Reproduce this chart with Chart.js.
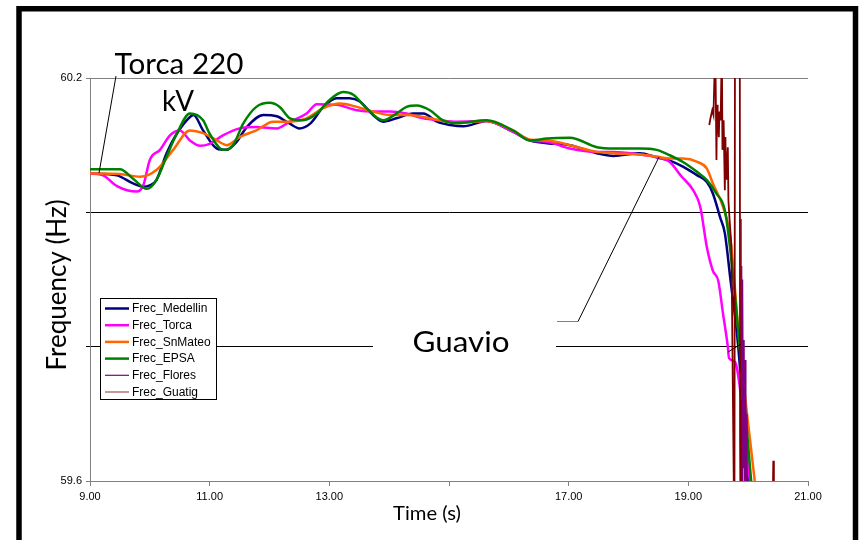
<!DOCTYPE html>
<html>
<head>
<meta charset="utf-8">
<script src="https://cdn.jsdelivr.net/npm/chart.js@4.4.1/dist/chart.umd.min.js"></script>
<style>
  html, body { margin: 0; padding: 0; background: #fff; }
  canvas { display: block; }
</style>
</head>
<body>
<canvas id="chart" width="860" height="540"></canvas>
<script>
// time (s) / frequency (Hz)
const tMedellin = [9.00, 9.45, 9.72, 9.89, 10.00, 10.11, 10.28, 10.45, 10.67, 10.73, 10.89, 11.12, 11.28, 11.45, 11.62, 11.90, 12.12, 12.34, 12.50, 12.68, 12.90, 13.12, 13.34, 13.51, 13.73, 13.90, 14.12, 14.40, 14.57, 14.80, 15.02, 15.24, 15.63, 16.07, 16.36, 16.64, 17.02, 17.47, 17.75, 18.19, 18.47, 18.69, 18.91, 19.15, 19.31, 19.41, 19.53, 19.61, 19.70, 19.83, 19.92, 20.00];
const fMedellin = [60.058, 60.055, 60.043, 60.038, 60.040, 60.048, 60.088, 60.117, 60.142, 60.145, 60.122, 60.095, 60.093, 60.105, 60.127, 60.145, 60.143, 60.132, 60.125, 60.132, 60.157, 60.170, 60.170, 60.165, 60.145, 60.135, 60.140, 60.147, 60.147, 60.135, 60.130, 60.128, 60.136, 60.120, 60.107, 60.103, 60.100, 60.088, 60.084, 60.088, 60.082, 60.077, 60.068, 60.055, 60.045, 60.028, 59.993, 59.969, 59.903, 59.804, 59.700, 59.600];

const tTorca = [9.00, 9.22, 9.45, 9.78, 9.89, 10.00, 10.17, 10.34, 10.50, 10.67, 10.84, 11.00, 11.23, 11.50, 11.78, 12.12, 12.34, 12.62, 12.79, 13.12, 13.46, 13.73, 14.01, 14.29, 14.57, 14.85, 15.13, 15.63, 16.07, 16.36, 16.64, 17.02, 17.47, 17.75, 18.19, 18.47, 18.69, 18.88, 19.08, 19.20, 19.31, 19.41, 19.50, 19.58, 19.66, 19.68, 19.78, 20.03];
const fTorca = [60.058, 60.055, 60.039, 60.031, 60.040, 60.078, 60.093, 60.115, 60.122, 60.107, 60.099, 60.102, 60.115, 60.125, 60.127, 60.125, 60.135, 60.147, 60.161, 60.160, 60.152, 60.150, 60.150, 60.147, 60.140, 60.137, 60.135, 60.136, 60.120, 60.107, 60.105, 60.095, 60.090, 60.090, 60.086, 60.082, 60.075, 60.054, 60.033, 60.008, 59.948, 59.913, 59.898, 59.849, 59.800, 59.783, 59.777, 59.600];

const tSnMateo = [9.00, 9.50, 9.84, 10.11, 10.39, 10.67, 10.89, 11.12, 11.29, 11.50, 11.78, 12.06, 12.34, 12.62, 12.90, 13.18, 13.46, 13.73, 14.01, 14.30, 14.57, 14.85, 15.13, 15.63, 16.07, 16.36, 16.64, 17.02, 17.47, 17.75, 18.19, 18.47, 18.69, 18.91, 19.15, 19.31, 19.41, 19.58, 19.70, 19.86, 20.11];
const fSnMateo = [60.058, 60.057, 60.053, 60.063, 60.093, 60.122, 60.118, 60.107, 60.100, 60.112, 60.122, 60.135, 60.135, 60.140, 60.155, 60.162, 60.157, 60.150, 60.145, 60.145, 60.142, 60.137, 60.133, 60.136, 60.122, 60.108, 60.107, 60.100, 60.090, 60.088, 60.086, 60.083, 60.080, 60.080, 60.075, 60.065, 60.043, 60.008, 59.963, 59.800, 59.600];

const tEPSA = [9.00, 9.50, 9.72, 9.95, 10.11, 10.28, 10.45, 10.67, 10.89, 11.00, 11.23, 11.39, 11.56, 11.78, 12.00, 12.17, 12.34, 12.56, 12.79, 13.00, 13.23, 13.40, 13.62, 13.90, 14.12, 14.29, 14.46, 14.68, 14.90, 15.13, 15.63, 16.07, 16.36, 16.64, 17.02, 17.47, 17.75, 18.19, 18.47, 18.69, 18.91, 19.15, 19.31, 19.47, 19.61, 19.70, 19.86, 20.05];
const fEPSA = [60.064, 60.064, 60.050, 60.035, 60.048, 60.083, 60.117, 60.147, 60.137, 60.117, 60.093, 60.100, 60.132, 60.157, 60.163, 60.157, 60.140, 60.137, 60.147, 60.167, 60.179, 60.175, 60.155, 60.137, 60.147, 60.157, 60.159, 60.152, 60.137, 60.133, 60.137, 60.122, 60.107, 60.110, 60.111, 60.097, 60.095, 60.095, 60.093, 60.085, 60.075, 60.060, 60.048, 60.028, 60.003, 59.945, 59.799, 59.600];

// the last two only show up during the collapse, with a lot of noise
const tFlores = [19.88, 19.885, 19.89, 19.90, 19.905, 19.92, 19.93, 19.94, 19.95, 19.96, 19.97, 19.98];
const fFlores = [59.99, 59.55, 59.92, 59.55, 59.90, 59.62, 59.81, 59.55, 59.78, 59.55, 59.70, 59.55];

const tGuatig = [19.35, 19.37, 19.40, 19.42, 19.45, 19.47, 19.48, 19.49, 19.51, 19.52, 19.54, 19.56, 19.57, 19.58, 19.59, 19.61, 19.62, 19.63, 19.64, 19.66, 19.67, 19.69, 19.72, 19.77, 19.78, 19.86, 19.865, 19.87, 19.88, 20.40, 20.42, 20.43, 20.60];
const fGuatig = [60.130, 60.140, 60.152, 60.145, 60.250, 60.078, 60.160, 60.140, 60.112, 60.150, 60.137, 60.250, 60.093, 60.120, 60.137, 60.033, 60.112, 60.050, 60.063, 60.097, 60.018, 59.988, 59.950, 59.500, 60.300, 60.300, 59.660, 59.720, 59.500, 59.500, 59.630, 59.500, 59.500];

const seriesNames = ['Frec_Medellin', 'Frec_Torca', 'Frec_SnMateo', 'Frec_EPSA', 'Frec_Flores', 'Frec_Guatig'];
const seriesColors = ['#000080', '#ff00ff', '#ff6600', '#008000', '#800080', '#800000'];
const legendColors = ['#000080', '#ff00ff', '#ff6600', '#008000', '#800080', '#a0524f'];

const xLabelValues = [9, 11, 13, 17, 19, 21];   // 15.00 is not printed in the original
const yLabelValues = [59.6, 60.2];

function points(t, f) {
    return t.map(function(x, i) { return { x: x, y: f[i] }; });
}

function sameValue(a, b) {
    return Math.abs(a - b) < 1e-6;
}

// stretch a text to a given width, like the scaled picture does
function fitText(ctx, text, cx, baseline, width, size) {
    ctx.font = size + 'px Lato';
    let w = ctx.measureText(text).width;
    ctx.save();
    ctx.translate(cx, baseline);
    ctx.scale(width / w, 1);
    ctx.textAlign = 'center';
    ctx.textBaseline = 'alphabetic';
    ctx.fillStyle = '#000';
    ctx.fillText(text, 0, 0);
    ctx.restore();
}

function line(ctx, x1, y1, x2, y2, color) {
    ctx.beginPath();
    ctx.strokeStyle = color;
    ctx.lineWidth = 1;
    ctx.moveTo(x1, y1);
    ctx.lineTo(x2, y2);
    ctx.stroke();
}

const decor = {
    id: 'decor',
    beforeDraw: function(chart) {
        let ctx = chart.ctx;
        ctx.save();
        ctx.fillStyle = '#fff';
        ctx.fillRect(0, 0, chart.width, chart.height);
        ctx.restore();
    },
    afterDatasetsDraw: function(chart) {
        let ctx = chart.ctx;
        ctx.save();
        // text box of "Guavio" hides the 59.8 grid line
        ctx.fillStyle = '#fff';
        ctx.fillRect(373, 328, 183, 28);
        fitText(ctx, 'Guavio', 461, 352, 97, 29);
        line(ctx, 557, 321.5, 578, 321.5, '#808080');
        line(ctx, 578, 321.5, 659, 157, '#000');
        line(ctx, 728, 352, 741, 344, '#000');

        fitText(ctx, 'Torca 220', 179, 74, 129, 29);
        fitText(ctx, 'kV', 178, 111, 32, 29);
        line(ctx, 116, 76, 99, 173, '#000');
        ctx.restore();
    },
    afterDraw: function(chart) {
        let ctx = chart.ctx;
        ctx.save();

        // legend box inside the plot
        ctx.fillStyle = '#fff';
        ctx.fillRect(100.5, 298.5, 116, 101);
        ctx.strokeStyle = '#000';
        ctx.lineWidth = 1;
        ctx.strokeRect(100.5, 298.5, 116, 101);
        ctx.font = '12px "Liberation Sans", Arial';
        ctx.textBaseline = 'middle';
        ctx.textAlign = 'left';
        for (let i = 0; i < seriesNames.length; i++) {
            let y = 308.5 + i * 16.7;
            ctx.beginPath();
            ctx.strokeStyle = legendColors[i];
            ctx.lineWidth = i < 4 ? 2.5 : 1.2;
            ctx.moveTo(105, y);
            ctx.lineTo(129, y);
            ctx.stroke();
            ctx.fillStyle = '#000';
            ctx.fillText(seriesNames[i], 132, y + 0.5);
        }

        // axis titles
        fitText(ctx, 'Time (s)', 427, 520, 68, 19);
        ctx.save();
        ctx.translate(66, 285);
        ctx.rotate(-Math.PI / 2);
        ctx.font = '26px Lato';
        ctx.textAlign = 'center';
        ctx.textBaseline = 'alphabetic';
        ctx.fillStyle = '#000';
        ctx.fillText('Frequency (Hz)', 0, 0);
        ctx.restore();

        // thick black frame of the figure
        ctx.strokeStyle = '#000';
        ctx.lineWidth = 5.5;
        ctx.strokeRect(19, 8.75, 836.5, 600);
        ctx.restore();
    }
};

Chart.defaults.font.family = '"Liberation Sans", Arial, sans-serif';
Chart.defaults.font.size = 11;
Chart.defaults.color = '#000';

function dataset(i, t, f, width, tension) {
    return {
        label: seriesNames[i],
        data: points(t, f),
        borderColor: seriesColors[i],
        backgroundColor: seriesColors[i],
        borderWidth: width,
        pointRadius: 0,
        tension: tension,
        cubicInterpolationMode: tension > 0 ? 'monotone' : 'default',
        fill: false,
        order: 6 - i
    };
}

new Chart(document.getElementById('chart'), {
    type: 'line',
    data: {
        datasets: [
            dataset(0, tMedellin, fMedellin, 2.5, 0.4),
            dataset(1, tTorca, fTorca, 2.5, 0.4),
            dataset(2, tSnMateo, fSnMateo, 2.5, 0.4),
            dataset(3, tEPSA, fEPSA, 2.5, 0.4),
            dataset(4, tFlores, fFlores, 1.5, 0),
            dataset(5, tGuatig, fGuatig, 1.8, 0)
        ]
    },
    options: {
        responsive: false,
        devicePixelRatio: 1,
        animation: false,
        layout: { padding: { top: 78, right: 52, bottom: 0, left: 0 } },
        plugins: {
            legend: { display: false },
            tooltip: { enabled: false }
        },
        scales: {
            x: {
                type: 'linear',
                min: 9,
                max: 21,
                ticks: {
                    stepSize: 2,
                    padding: 4,
                    maxRotation: 0,
                    callback: function(value) {
                        return xLabelValues.some(function(v) { return sameValue(v, value); }) ? value.toFixed(2) : '';
                    }
                },
                grid: { drawOnChartArea: false, drawTicks: true, tickLength: 5, color: '#808080' },
                border: { color: '#808080', width: 1 },
                afterFit: function(scale) { scale.height = 59; }
            },
            y: {
                type: 'linear',
                min: 59.6,
                max: 60.2,
                ticks: {
                    stepSize: 0.2,
                    padding: 4,
                    callback: function(value) {
                        return yLabelValues.some(function(v) { return sameValue(v, value); }) ? value.toFixed(1) : '';
                    }
                },
                grid: {
                    tickLength: 4,
                    color: function(c) {
                        if (c.tick && (sameValue(c.tick.value, 60.2) || sameValue(c.tick.value, 59.6))) {
                            return '#808080';
                        }
                        return '#000';
                    }
                },
                border: { color: '#808080', width: 1 },
                afterFit: function(scale) { scale.width = 90; }
            }
        }
    },
    plugins: [decor]
});
</script>
</body>
</html>
